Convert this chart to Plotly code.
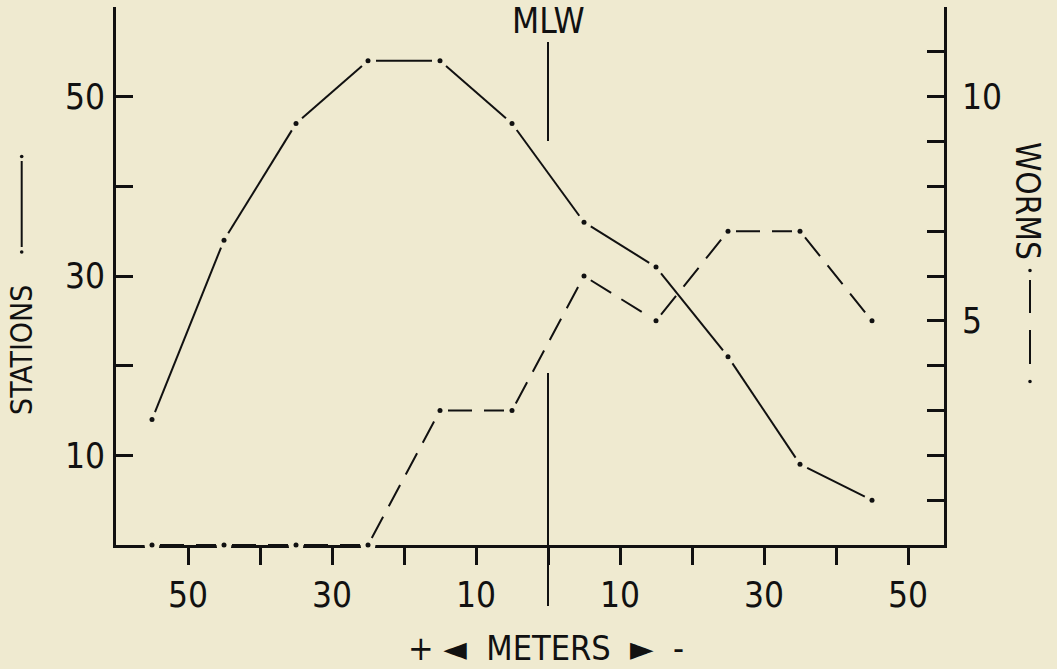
import plotly.graph_objects as go

# ---- data (meters: + landward of MLW on the left, - seaward on the right)
meters = [55, 45, 35, 25, 15, 5, -5, -15, -25, -35, -45]
stations = [14, 34, 47, 54, 54, 47, 36, 31, 21, 9, 5]
worms = [0, 0, 0, 0, 3, 3, 6, 5, 7, 7, 5]

x_tickvals = [50, 40, 30, 20, 10, 0, -10, -20, -30, -40, -50]
x_ticktext = ["50", "", "30", "", "10", "", "10", "", "30", "", "50"]
st_tickvals = [10, 20, 30, 40, 50, 60]
st_ticktext = ["10", "", "30", "", "50", ""]
wm_tickvals = list(range(1, 13))
wm_ticktext = ["5" if v == 5 else ("10" if v == 10 else "") for v in wm_tickvals]

X_RANGE = [60, -55]
ST_RANGE = [0, 60]
WM_RANGE = [0, 12]

# ---- layout geometry
W, H = 1057, 669
ML, MR, MT, MB = 116, 113, 7, 124
PW, PH = W - ML - MR, H - MT - MB
BG = "#EFEAD0"
INK = "#111111"
FONT = "Liberation Sans Narrow, DejaVu Sans Condensed, Roboto Condensed, sans-serif"
NB = "\u00A0"


def px(xp):
    return (xp - ML) / PW


def py(yp):
    return (H - MB - yp) / PH


def xdata_to_paper(v):
    return (v - X_RANGE[0]) / (X_RANGE[1] - X_RANGE[0])


def gapped_segments(xs, ys, yrange, gap):
    """Split a polyline into separate segments, each pulled back `gap` pixels
    from both vertices (as in the drafted original)."""
    sx = PW / (X_RANGE[1] - X_RANGE[0])
    sy = PH / (yrange[1] - yrange[0])
    ox, oy = [], []
    for i in range(len(xs) - 1):
        dxp = (xs[i + 1] - xs[i]) * sx
        dyp = (ys[i + 1] - ys[i]) * sy
        L = (dxp ** 2 + dyp ** 2) ** 0.5
        f = gap / L
        ox += [xs[i] + (xs[i + 1] - xs[i]) * f, xs[i + 1] - (xs[i + 1] - xs[i]) * f, None]
        oy += [ys[i] + (ys[i + 1] - ys[i]) * f, ys[i + 1] - (ys[i + 1] - ys[i]) * f, None]
    return ox, oy


fig = go.Figure()

sx_, sy_ = gapped_segments(meters, stations, ST_RANGE, 8)
wx_, wy_ = gapped_segments(meters, worms, WM_RANGE, 8)

# lines
fig.add_trace(go.Scatter(x=sx_, y=sy_, mode="lines", connectgaps=False,
                         line=dict(color=INK, width=2), yaxis="y",
                         hoverinfo="skip", showlegend=False))
fig.add_trace(go.Scatter(x=wx_, y=wy_, mode="lines", connectgaps=False,
                         line=dict(color=INK, width=2, dash="24px,12px"),
                         yaxis="y2", hoverinfo="skip", showlegend=False))
# gaps in the base line where the worm points sit on it
zx = [m for m, w in zip(meters, worms) if w == 0]
zy = [w for w in worms if w == 0]
fig.add_trace(go.Scatter(x=zx, y=zy, mode="markers", yaxis="y2",
                         marker=dict(size=15, color=BG, line=dict(width=0)),
                         cliponaxis=False, hoverinfo="skip", showlegend=False))
# dots at vertices
fig.add_trace(go.Scatter(x=meters, y=stations, mode="markers", yaxis="y",
                         marker=dict(size=5, color=INK, line=dict(width=0)),
                         cliponaxis=False, showlegend=False))
fig.add_trace(go.Scatter(x=meters, y=worms, mode="markers", yaxis="y2",
                         marker=dict(size=5, color=INK, line=dict(width=0)),
                         cliponaxis=False, showlegend=False))

shapes = []
mlw_x = xdata_to_paper(0)
# MLW marker line (upper and lower parts)
shapes.append(dict(type="line", xref="paper", yref="paper", x0=mlw_x, x1=mlw_x,
                   y0=py(42), y1=py(141), line=dict(color=INK, width=2)))
shapes.append(dict(type="line", xref="paper", yref="paper", x0=mlw_x, x1=mlw_x,
                   y0=py(373), y1=py(606), line=dict(color=INK, width=2)))

# legend glyph beside STATIONS: dot, line, dot
lx = 21.7
shapes.append(dict(type="line", xref="paper", yref="paper", x0=px(lx), x1=px(lx),
                   y0=py(161), y1=py(247), line=dict(color=INK, width=2)))
for yy in (156.5, 252):
    shapes.append(dict(type="circle", xref="paper", yref="paper",
                       x0=px(lx - 1.8), x1=px(lx + 1.8), y0=py(yy - 1.8), y1=py(yy + 1.8),
                       fillcolor=INK, line=dict(width=0)))
# legend glyph beside WORMS: dot, dash, dash, dot
rx = 1030
for (a, b) in ((280, 313), (330, 364)):
    shapes.append(dict(type="line", xref="paper", yref="paper", x0=px(rx), x1=px(rx),
                       y0=py(a), y1=py(b), line=dict(color=INK, width=2)))
for yy in (270.5, 381.5):
    shapes.append(dict(type="circle", xref="paper", yref="paper",
                       x0=px(rx - 1.8), x1=px(rx + 1.8), y0=py(yy - 1.8), y1=py(yy + 1.8),
                       fillcolor=INK, line=dict(width=0)))

x_title = "+ \u25C4" + NB + " METERS " + NB + "\u25BA " + NB + "-"

annotations = [
    dict(text="MLW", xref="paper", yref="paper", x=mlw_x, y=py(21),
         xanchor="center", yanchor="middle", showarrow=False,
         font=dict(family=FONT, size=35, color=INK)),
    dict(text=x_title, xref="paper", yref="paper", x=px(546), y=py(669),
         xanchor="center", yanchor="bottom", showarrow=False, borderpad=0,
         font=dict(family=FONT, size=34, color=INK)),
    dict(text="STATIONS", xref="paper", yref="paper", x=px(21), y=py(350),
         xanchor="center", yanchor="middle", showarrow=False, textangle=-90,
         font=dict(family=FONT, size=30, color=INK)),
    dict(text="WORMS", xref="paper", yref="paper", x=px(1028), y=py(201),
         xanchor="center", yanchor="middle", showarrow=False, textangle=90,
         font=dict(family=FONT, size=33, color=INK)),
]

tickfont = dict(family=FONT, size=35, color=INK)

fig.update_layout(
    width=W, height=H,
    margin=dict(l=ML, r=MR, t=MT, b=MB, pad=0),
    paper_bgcolor=BG, plot_bgcolor=BG,
    showlegend=False,
    xaxis=dict(range=X_RANGE, showgrid=False, zeroline=False,
               showline=True, linecolor=INK, linewidth=3,
               ticks="outside", ticklen=17, tickwidth=2.5, tickcolor=INK,
               tickmode="array", tickvals=x_tickvals, ticktext=x_ticktext,
               tickfont=tickfont, ticklabelstandoff=0, layer="below traces"),
    yaxis=dict(range=ST_RANGE, showgrid=False, zeroline=False,
               showline=True, linecolor=INK, linewidth=3,
               ticks="inside", ticklen=17, tickwidth=2.5, tickcolor=INK,
               tickmode="array", tickvals=st_tickvals, ticktext=st_ticktext,
               tickfont=tickfont, ticklabelstandoff=1),
    yaxis2=dict(range=WM_RANGE, overlaying="y", side="right", showgrid=False,
                zeroline=False, showline=True, linecolor=INK, linewidth=3,
                ticks="inside", ticklen=17, tickwidth=2.5, tickcolor=INK,
                tickmode="array", tickvals=wm_tickvals, ticktext=wm_ticktext,
                tickfont=tickfont, ticklabelstandoff=8),
    shapes=shapes,
    annotations=annotations,
)

fig.write_html(
    "out.html",
    config={"displayModeBar": False},
    post_script="document.body.style.margin='0';document.body.style.background='" + BG + "';",
)
